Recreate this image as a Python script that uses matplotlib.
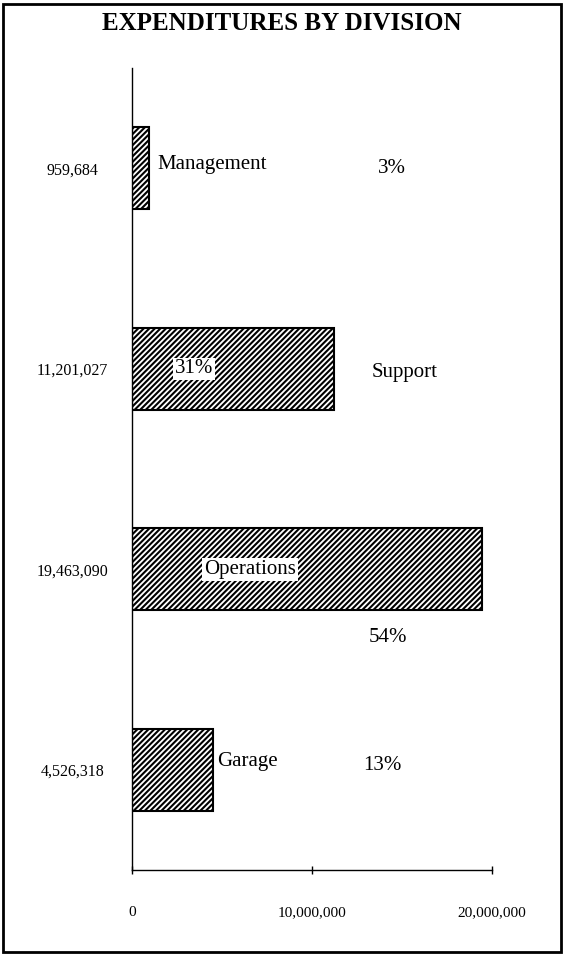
import numpy as np
import matplotlib
matplotlib.use('Agg')
import matplotlib.pyplot as plt
from matplotlib.patches import Rectangle

# ---- data ----
divisions = ['Management', 'Support', 'Operations', 'Garage']
amounts = [959684, 11201027, 19463090, 4526318]
amount_labels = ['959,684', '11,201,027', '19,463,090', '4,526,318']
pct_labels = ['3%', '31%', '54%', '13%']
xticks = [0, 10000000, 20000000]
xticklabels = ['0', '10,000,000', '20,000,000']

plt.rcParams['font.family'] = ['Liberation Serif', 'DejaVu Serif']
plt.rcParams['hatch.linewidth'] = 1.5

fig = plt.figure(figsize=(5.64, 9.56), dpi=100)
W, H = 564., 956.
# axes: x 132..492 px, y 68..870 px
ax = fig.add_axes([132/W, 1-870/H, 360/W, 802/H])

ypos = np.arange(len(divisions))
ax.barh(ypos, amounts, height=0.41, color='white', edgecolor='black',
        hatch='//////', linewidth=1.5)

ax.set_xlim(0, 20000000)
ax.set_ylim(3.5, -0.5)

ax.spines['top'].set_visible(False)
ax.spines['right'].set_visible(False)
ax.spines['left'].set_linewidth(1.0)
ax.spines['bottom'].set_linewidth(1.0)

ax.set_xticks(xticks)
ax.set_xticklabels(xticklabels, fontsize=11)
ax.tick_params(axis='x', direction='inout', length=6, width=1, pad=23)

ax.set_yticks(ypos)
ax.set_yticklabels(amount_labels, fontsize=11.5, ha='center')
ax.tick_params(axis='y', length=0, pad=43)

# labels left over from the pie layout
M = 1e6
FS = 15
ax.text(1.39*M, -0.02, divisions[0], fontsize=FS, ha='left', va='center')
ax.text(13.67*M, 0, pct_labels[0], fontsize=FS, ha='left', va='center')

ax.text(3.44*M, 1, pct_labels[1], fontsize=FS, ha='center', va='center',
        bbox=dict(facecolor='white', edgecolor='none', pad=1))
ax.text(13.3*M, 1.02, divisions[1], fontsize=FS, ha='left', va='center')

ax.text(6.56*M, 2.0, divisions[2], fontsize=FS, ha='center', va='center',
        bbox=dict(facecolor='white', edgecolor='none', pad=1.5))
ax.text(14.2*M, 2.34, pct_labels[2], fontsize=FS, ha='center', va='center')

ax.text(4.72*M, 2.96, divisions[3], fontsize=FS, ha='left', va='center')
ax.text(12.83*M, 2.98, pct_labels[3], fontsize=FS, ha='left', va='center')

fig.text(0.5, 1-24/H, 'EXPENDITURES BY DIVISION', fontsize=18,
         fontweight='bold', ha='center', va='center')

# frame around the whole chart
fig.patches.append(Rectangle((3/W, 4/H), 558/W, 948/H, transform=fig.transFigure,
                             fill=False, edgecolor='black', linewidth=2))

plt.savefig('out.png', dpi=100)
